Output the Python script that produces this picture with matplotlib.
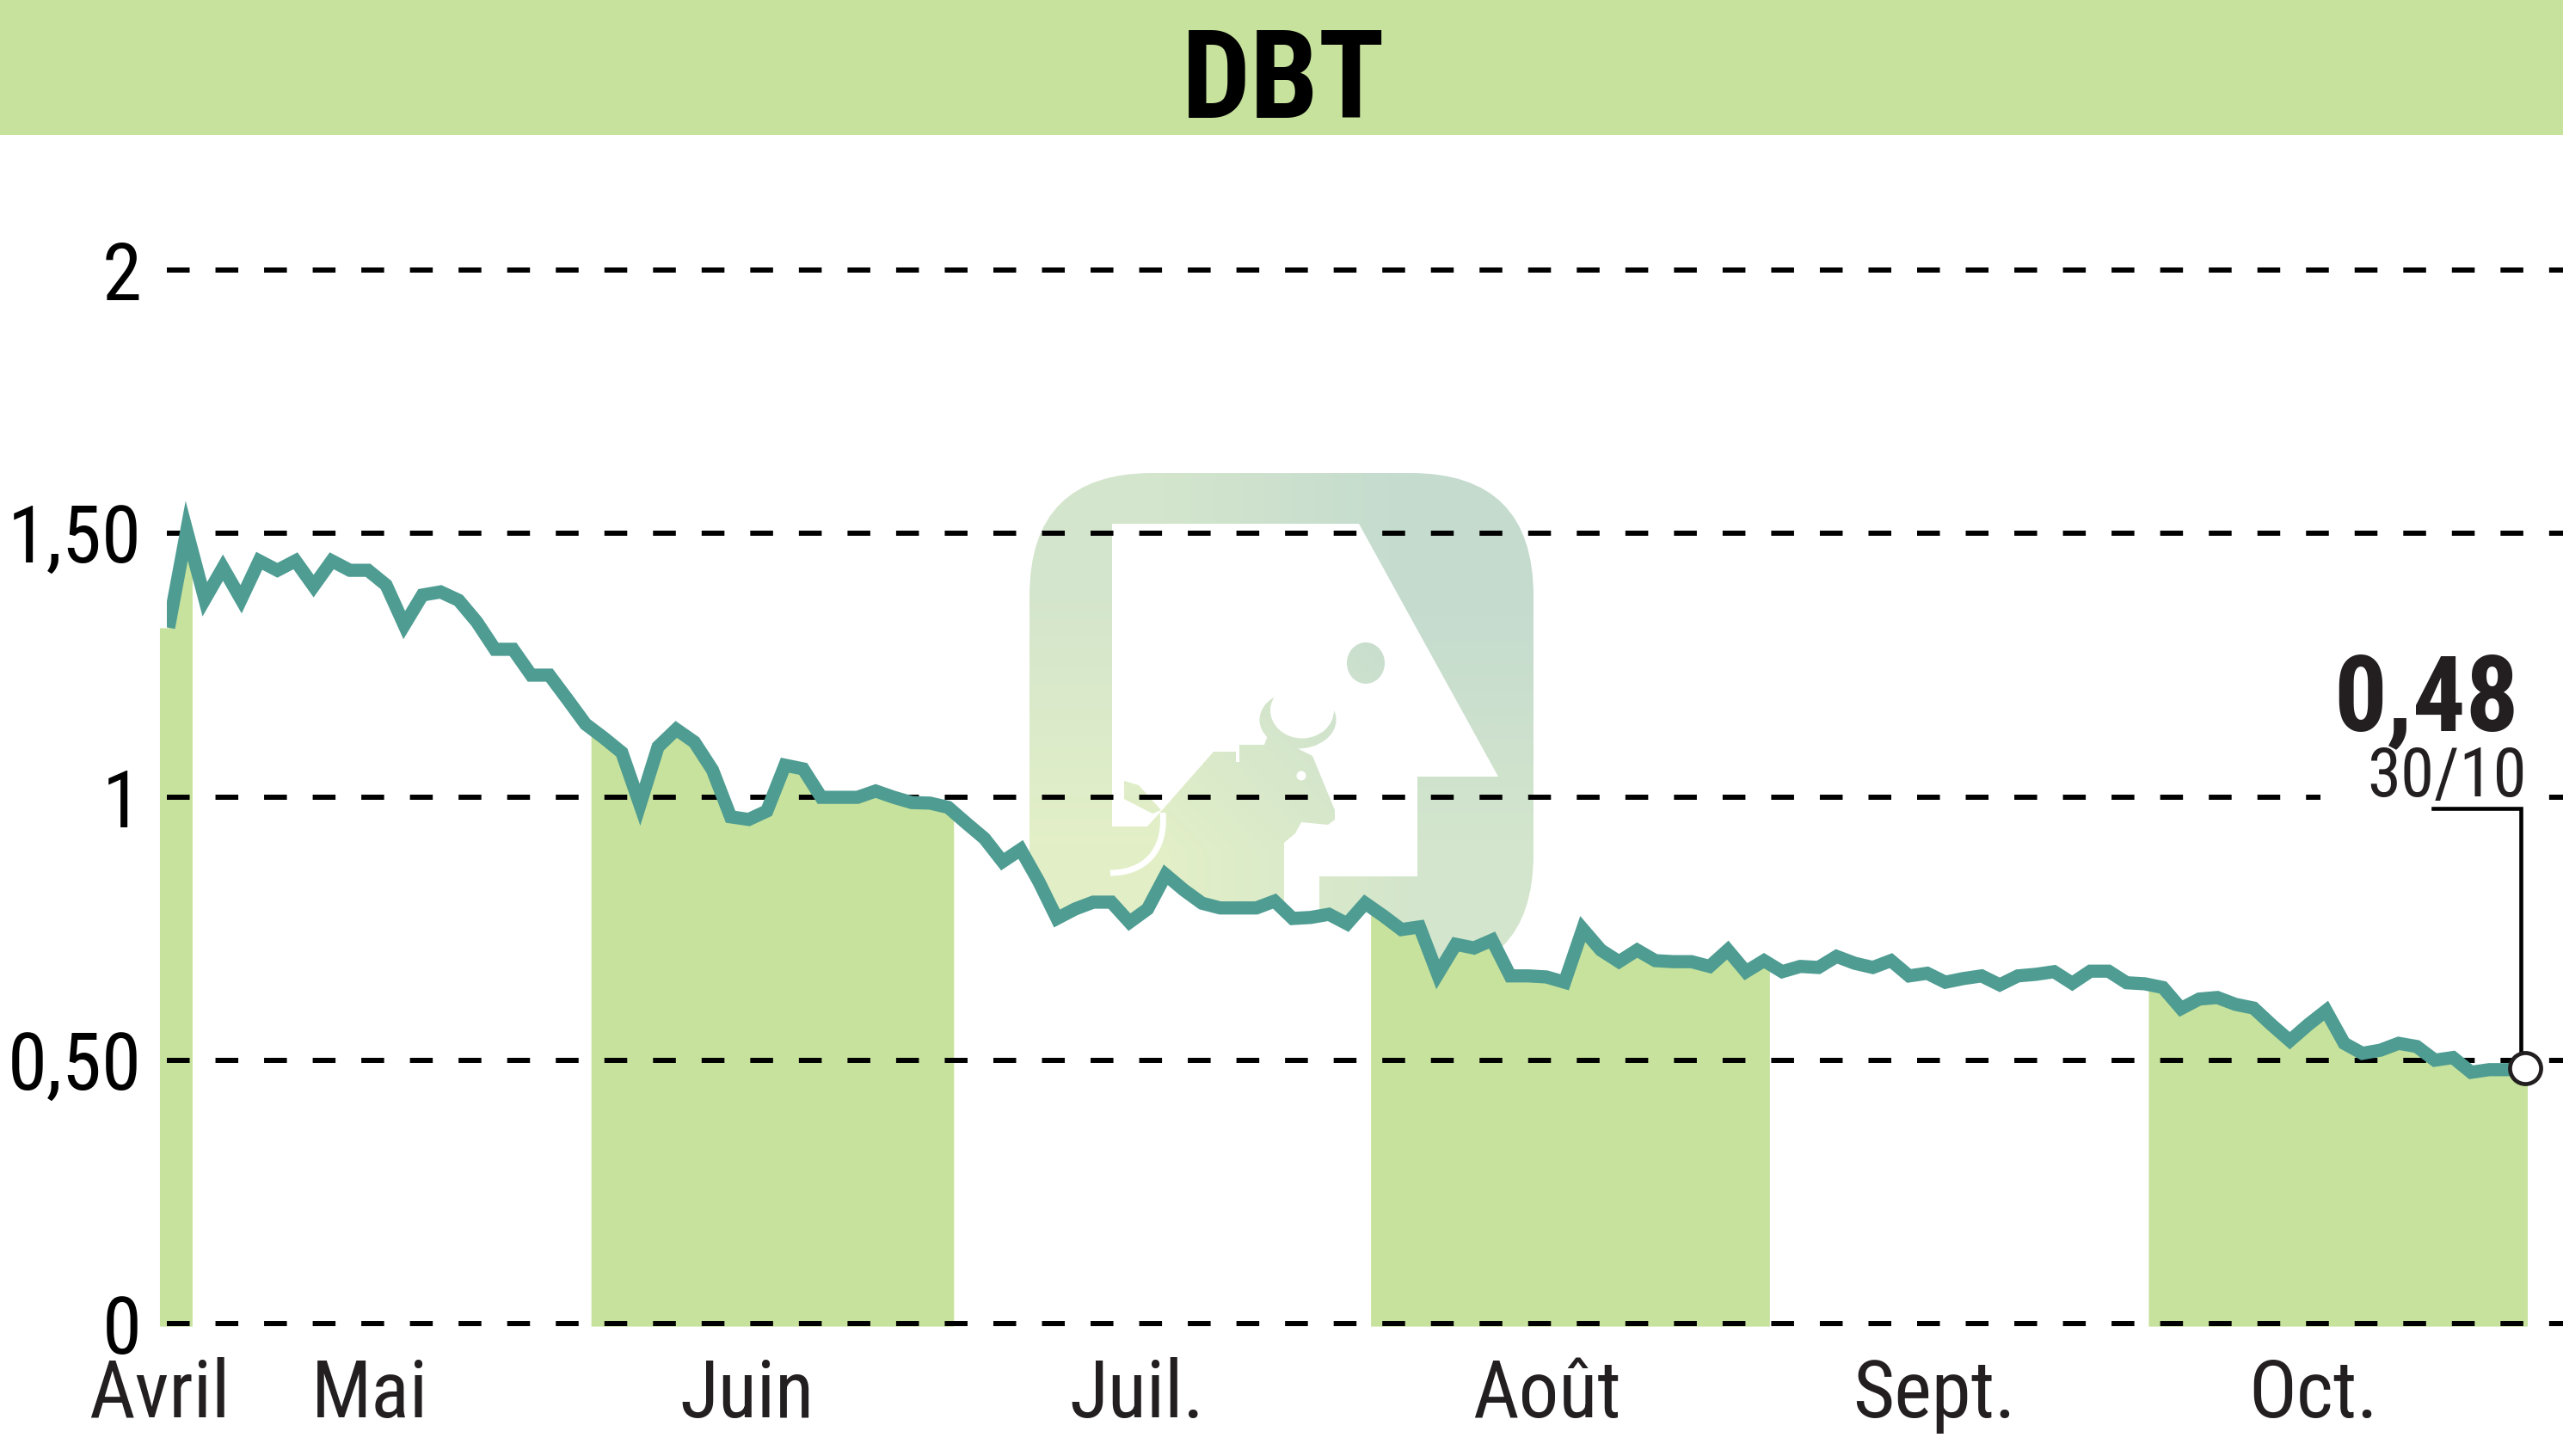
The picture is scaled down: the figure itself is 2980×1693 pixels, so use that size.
"""DBT : cours de l'action, avril a octobre."""

import numpy as np
import matplotlib
matplotlib.use("Agg")
import matplotlib.pyplot as plt
from matplotlib.font_manager import fontManager
from matplotlib.patches import Ellipse, FancyBboxPatch, PathPatch, Polygon, Rectangle
from matplotlib.path import Path
from matplotlib.transforms import blended_transform_factory

TITLE = "DBT"
PRICES = [
    1.321, 1.505, 1.375, 1.435, 1.375, 1.448, 1.430, 1.448, 1.400, 1.448,
    1.430, 1.430, 1.402, 1.326, 1.383, 1.389, 1.373, 1.332, 1.280, 1.280,
    1.231, 1.231, 1.185, 1.138, 1.112, 1.084, 0.985, 1.095, 1.128, 1.104,
    1.051, 0.962, 0.957, 0.973, 1.060, 1.053, 0.999, 0.999, 0.999, 1.011,
    0.999, 0.989, 0.988, 0.980, 0.950, 0.921, 0.877, 0.900, 0.839, 0.769,
    0.787, 0.800, 0.800, 0.762, 0.787, 0.852, 0.823, 0.798, 0.789, 0.789,
    0.789, 0.802, 0.769, 0.771, 0.777, 0.759, 0.798, 0.774, 0.748, 0.753,
    0.663, 0.720, 0.713, 0.728, 0.660, 0.660, 0.658, 0.648, 0.749, 0.709,
    0.687, 0.709, 0.689, 0.687, 0.687, 0.678, 0.709, 0.668, 0.689, 0.668,
    0.678, 0.676, 0.697, 0.684, 0.676, 0.689, 0.660, 0.665, 0.648, 0.655,
    0.660, 0.643, 0.660, 0.663, 0.668, 0.646, 0.669, 0.669, 0.647, 0.645,
    0.638, 0.598, 0.616, 0.619, 0.606, 0.599, 0.567, 0.537, 0.567, 0.594,
    0.532, 0.513, 0.519, 0.532, 0.526, 0.500, 0.505, 0.477, 0.482, 0.482,
    0.485,
]
MONTHS = ["Avril", "Mai", "Juin", "Juil.", "Août", "Sept.", "Oct."]
MONTH_POS = [-0.5, 11.1, 31.9, 53.4, 76.0, 97.4, 118.3]
BANDS = [(-0.5, 1.3), (23.3, 43.3), (66.3, 88.3), (109.2, 130.1)]
Y_TICKS = [0, 0.5, 1, 1.5, 2]
Y_LABELS = ["0", "0,50", "1", "1,50", "2"]
LAST_VALUE = "0,48"
LAST_DATE = "30/10"

GREEN = "#C7E29C"
TEAL = "#4E9C92"
DARK = "#231F20"

WIDTH, HEIGHT = 2980, 1693
X0_PX, STEP_PX = 196, 21.08
Y0_PX, Y2_PX = 1539, 314


def pick_font():
    names = {f.name for f in fontManager.ttflist}
    for name in ["Liberation Sans Narrow", "Roboto Condensed", "Open Sans Condensed", "Liberation Sans"]:
        if name in names:
            return name
    return "DejaVu Sans"


def draw_logo(ax):
    """Logo en filigrane : carre arrondi en degrade, decoupe blanche, taureau."""
    grad = np.array(
        [[[0.83, 0.90, 0.80], [0.77, 0.86, 0.81]],
         [[0.89, 0.94, 0.78], [0.83, 0.90, 0.80]]]
    )

    def gradient(patch, zorder):
        patch.set_transform(ax.transData)
        im = ax.imshow(grad, extent=(1197, 1783, 1136, 550), interpolation="bilinear",
                       aspect="auto", zorder=zorder)
        im.set_clip_path(patch)

    gradient(FancyBboxPatch((1197, 550), 586, 586, boxstyle="round,pad=0,rounding_size=143"), 1)

    cut = [(1293, 609), (1580, 609), (1742, 903), (1648, 903), (1648, 1019), (1534, 1019),
           (1534, 1080), (1493, 1080), (1493, 961), (1293, 961)]
    ax.add_patch(Polygon(cut, closed=True, fc="white", ec="none", zorder=2))

    bull = [(1353, 940), (1411, 874), (1437, 874), (1437, 886), (1441, 886), (1441, 866),
            (1470, 866), (1475, 853), (1518, 875), (1526, 879), (1552, 942), (1552, 953),
            (1544, 959), (1513, 956), (1506, 969), (1493, 980), (1493, 1080), (1294, 1080),
            (1293, 961), (1334, 961)]
    tail = [(1307, 908), (1324, 913), (1350, 942), (1340, 946), (1307, 929)]
    gradient(Polygon(bull, closed=True), 3)
    gradient(Polygon(tail, closed=True), 3)
    gradient(Ellipse((1588, 771), 44, 48), 3)
    gradient(Ellipse((1509, 837), 89, 67), 3)

    ax.add_patch(Ellipse((1514, 826), 74, 65, fc="white", ec="none", zorder=4))
    ax.add_patch(Ellipse((1513, 902), 11, 11, fc="white", ec="none", zorder=4))
    arc = Path([(1291, 1015), (1330, 1015), (1356, 990), (1352, 945)],
               [Path.MOVETO, Path.CURVE4, Path.CURVE4, Path.CURVE4])
    ax.add_patch(PathPatch(arc, fc="none", ec="white", lw=5, zorder=4))


plt.rcParams["lines.scale_dashes"] = False
plt.rcParams["font.family"] = [pick_font(), "DejaVu Sans"]

fig = plt.figure(figsize=(WIDTH / 100, HEIGHT / 100), dpi=100, facecolor="white")

# fond en pixels : bandeau et logo
bg = fig.add_axes([0, 0, 1, 1], zorder=0)
bg.set_axis_off()
bg.add_patch(Rectangle((0, 0), WIDTH, 157, fc=GREEN, ec="none"))
bg.text(1492, 137, TITLE, fontsize=102, fontweight="bold", ha="center", va="baseline", color="black")
draw_logo(bg)
bg.set_xlim(0, WIDTH)
bg.set_ylim(HEIGHT, 0)
px = bg.transData

# graphique
x = np.arange(len(PRICES))
y = np.array(PRICES)
ax = fig.add_axes(
    [194 / WIDTH, 1 - Y0_PX / HEIGHT, (WIDTH - 194) / WIDTH, (Y0_PX - Y2_PX) / HEIGHT],
    zorder=1,
)
ax.patch.set_alpha(0)
for side in ax.spines.values():
    side.set_visible(False)

ax.fill_between(x, y, 0, color="white", lw=0, zorder=0.5)
for start, end in BANDS:
    xs = np.concatenate(([start], x[(x > start) & (x < end)], [end]))
    ax.fill_between(xs, np.interp(xs, x, y), -0.005, color=GREEN, lw=0, zorder=1, clip_on=False)

ax.set_yticks(Y_TICKS, Y_LABELS)
ax.set_xticks([])
ax.set_xlim((194 - X0_PX) / STEP_PX, (WIDTH - X0_PX) / STEP_PX)
ax.set_ylim(0, 2)
ax.tick_params(axis="y", length=0, labelsize=67, pad=21, labelcolor="black")
ax.grid(True, axis="y", color="black", lw=4.3, linestyle=(0, (19.1, 21.6)))
for line in ax.get_ygridlines():
    line.set_clip_on(False)

# "Avril" tombe a gauche du premier point : mois poses en texte, pas en ticks
month_trans = blended_transform_factory(ax.transData, px)
for name, pos in zip(MONTHS, MONTH_POS):
    ax.text(pos, 1648, name, transform=month_trans, fontsize=67, ha="center", va="baseline",
            color=DARK, clip_on=False)

ax.plot(x, y, color=TEAL, lw=11, solid_joinstyle="miter", solid_capstyle="butt", zorder=3)

# etiquette de la derniere valeur
ax.add_patch(Rectangle((2698, 915), 256, 24, fc="white", ec="none", transform=px, zorder=2.6))
ax.plot([2829, 2931, 2931], [940, 940, 1225], color="black", lw=3.3, transform=px,
        solid_joinstyle="miter", zorder=3.5)
ax.plot(x[-1], y[-1], "o", ms=26, mfc="white", mec=DARK, mew=3.4, zorder=5, clip_on=False)
ax.text(2929, 849, LAST_VALUE, transform=px, fontsize=88, fontweight="bold", ha="right",
        va="baseline", color=DARK, zorder=6)
ax.text(2938, 926, LAST_DATE, transform=px, fontsize=57, ha="right", va="baseline",
        color=DARK, zorder=6)

fig.savefig("out.png", dpi=100)
